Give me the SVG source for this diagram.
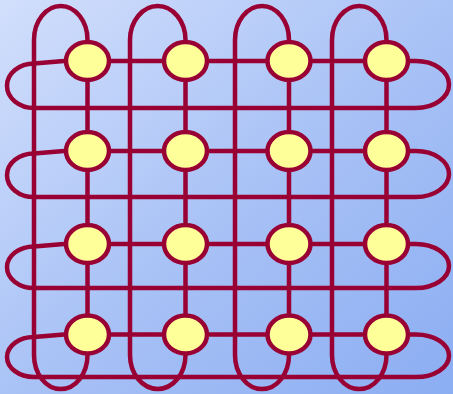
<svg xmlns="http://www.w3.org/2000/svg" width="453" height="394" viewBox="0 0 453 394">
  <defs>
    <linearGradient id="bg" x1="0" y1="0" x2="1" y2="1">
      <stop offset="0" stop-color="#d2dffc"/>
      <stop offset="0.5" stop-color="#aac3f6"/>
      <stop offset="1" stop-color="#8badf2"/>
    </linearGradient>
  </defs>
  <style>
    .wire { fill: none; stroke: #990033; stroke-width: 4.5; stroke-linejoin: round; }
    .node { fill: #ffff99; stroke: #990033; stroke-width: 4.5; }
  </style>
  <rect x="0" y="0" width="453" height="394" fill="url(#bg)"/>
  <g id="connectors">
    <!-- rows -->
    <path class="wire" d="M34,108 L416,108 A33,23.5 0 0 0 416,61 L64,61 L34,63.5 A27,22.25 0 0 0 34,108 Z"/>
    <path class="wire" d="M34,197 L416,197 A33,23 0 0 0 416,151 L64,151 L34,153.5 A27,21.75 0 0 0 34,197 Z"/>
    <path class="wire" d="M34,288 L416,288 A33,22 0 0 0 416,244 L64,244 L34,246.5 A27,20.75 0 0 0 34,288 Z"/>
    <path class="wire" d="M34,377 L416,377 A33,21.25 0 0 0 416,334.5 L64,334.5 L34,337 A27,20 0 0 0 34,377 Z"/>
    <!-- columns -->
    <path class="wire" d="M34,40 A26.75,34 0 0 1 87.5,40 L87.5,355 A26.75,34 0 0 1 34,355 Z"/>
    <path class="wire" d="M130,40 A27.75,34 0 0 1 185.5,40 L185.5,355 A27.75,34 0 0 1 130,355 Z"/>
    <path class="wire" d="M235,40 A27,34 0 0 1 289,40 L289,355 A27,34 0 0 1 235,355 Z"/>
    <path class="wire" d="M332,40 A27.25,34 0 0 1 386.5,40 L386.5,355 A27.25,34 0 0 1 332,355 Z"/>
  </g>
  <g id="n11"><ellipse class="node" cx="87.5" cy="61" rx="21.5" ry="19"/></g>
  <g id="n12"><ellipse class="node" cx="185.5" cy="61" rx="21.5" ry="19"/></g>
  <g id="n13"><ellipse class="node" cx="289" cy="61" rx="21.5" ry="19"/></g>
  <g id="n14"><ellipse class="node" cx="386.5" cy="61" rx="21.5" ry="19"/></g>
  <g id="n21"><ellipse class="node" cx="87.5" cy="151" rx="21.5" ry="19"/></g>
  <g id="n22"><ellipse class="node" cx="185.5" cy="151" rx="21.5" ry="19"/></g>
  <g id="n23"><ellipse class="node" cx="289" cy="151" rx="21.5" ry="19"/></g>
  <g id="n24"><ellipse class="node" cx="386.5" cy="151" rx="21.5" ry="19"/></g>
  <g id="n31"><ellipse class="node" cx="87.5" cy="244" rx="21.5" ry="19"/></g>
  <g id="n32"><ellipse class="node" cx="185.5" cy="244" rx="21.5" ry="19"/></g>
  <g id="n33"><ellipse class="node" cx="289" cy="244" rx="21.5" ry="19"/></g>
  <g id="n34"><ellipse class="node" cx="386.5" cy="244" rx="21.5" ry="19"/></g>
  <g id="n41"><ellipse class="node" cx="87.5" cy="334.5" rx="21.5" ry="19"/></g>
  <g id="n42"><ellipse class="node" cx="185.5" cy="334.5" rx="21.5" ry="19"/></g>
  <g id="n43"><ellipse class="node" cx="289" cy="334.5" rx="21.5" ry="19"/></g>
  <g id="n44"><ellipse class="node" cx="386.5" cy="334.5" rx="21.5" ry="19"/></g>
</svg>
